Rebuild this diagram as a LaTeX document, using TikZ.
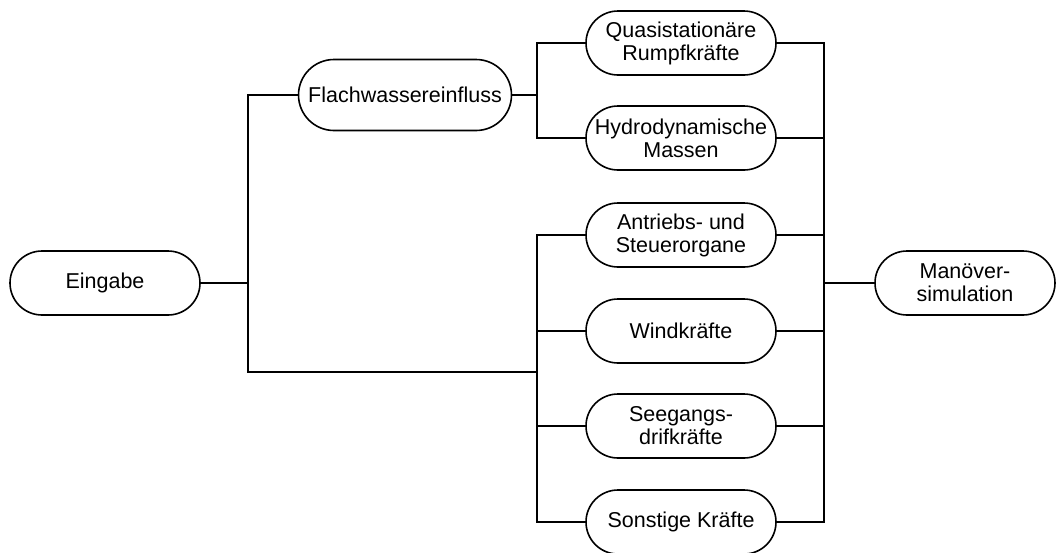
\documentclass[tikz,border=0pt]{standalone}
\usepackage{fontspec}
\setmainfont{Liberation Sans}
\usetikzlibrary{shapes.misc, positioning}

\begin{document}
\begin{tikzpicture}[
  x=1pt, y=-1pt,
  line width=1.6pt,
  font=\fontsize{21.5}{23}\selectfont,
  term/.style={draw, rounded rectangle, rounded rectangle arc length=180,
    minimum width=194pt, minimum height=64pt, inner sep=2pt, align=center},
  conn/.style={line width=1.6pt},
]
\useasboundingbox (0,0) rectangle (1058,552);
% input, shallow water and the force blocks
\node[term] (ein) at (105,283) {Eingabe};
\node[term, minimum width=217pt, minimum height=71pt] (fla) at (405,95) {Flachwassereinfluss};
\node[term] (qua) at (681,43)  {Quasistationäre\\Rumpfkräfte};
\node[term] (hyd) at (681,138) {Hydrodynamische\\Massen};
\node[term] (ant) at (681,235) {Antriebs- und\\Steuerorgane};
\node[term] (win) at (681,331) {Windkräfte};
\node[term] (see) at (681,426) {Seegangs-\\drifkräfte};
\node[term] (son) at (681,522) {Sonstige Kräfte};
% output
\node[term, minimum width=184pt] (man) at (965,283) {Manöver-\\simulation};
% bus lines
\coordinate (busA) at (248,95);
\coordinate (busAlow) at (248,372);
\coordinate (busC) at (537,372);
\coordinate (busB) at (537,95);
\coordinate (busR) at (824,283);
\draw[conn] (ein.east) -- (ein.east -| busA);
\draw[conn] (fla.west) -- (busA) -- (busAlow) -- (busC);
\draw[conn] (fla.east) -- (busB);
\draw[conn] (qua.west) -| (busB) |- (hyd.west);
\draw[conn] (ant.west) -| (busC) |- (son.west);
\draw[conn] (win.west) -- (win.west -| busC);
\draw[conn] (see.west) -- (see.west -| busC);
\draw[conn] (qua.east) -| (busR) |- (son.east);
\foreach \n in {hyd, ant, win, see}
  \draw[conn] (\n.east) -- (\n.east -| busR);
\draw[conn] (man.west) -- (busR);
\end{tikzpicture}
\end{document}
